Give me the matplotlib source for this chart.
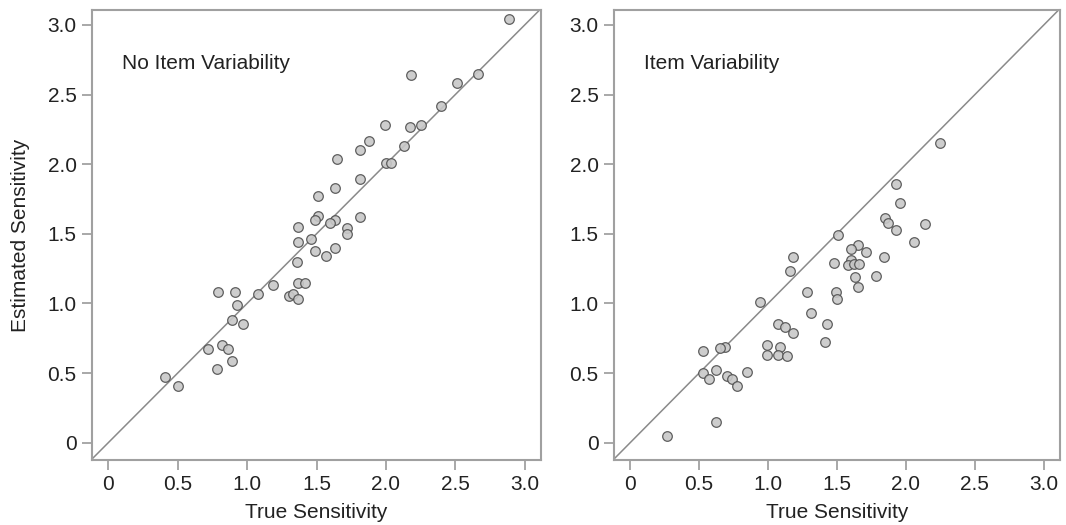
import numpy as np
import matplotlib.pyplot as plt

plt.rcParams['font.family'] = ['Liberation Sans', 'DejaVu Sans']

# No item variability (left panel)
true_left = [2.89, 2.18, 2.66, 2.51, 2.40, 2.25, 2.17, 1.99, 1.88, 1.81,
             2.13, 1.65, 2.00, 2.04, 1.63, 1.81, 1.51, 1.51, 1.49, 1.635,
             1.60, 1.81, 1.37, 1.72, 1.72, 1.46, 1.37, 1.635, 1.49, 1.57,
             1.36, 0.41, 0.50, 0.78, 0.72, 0.82, 0.86, 0.89, 0.89, 0.97,
             0.925, 0.79, 0.91, 1.08, 1.19, 1.30, 1.33, 1.365, 1.365, 1.42]
est_left = [3.04, 2.64, 2.65, 2.58, 2.42, 2.28, 2.27, 2.28, 2.17, 2.10,
            2.13, 2.04, 2.01, 2.01, 1.83, 1.89, 1.77, 1.63, 1.60, 1.60,
            1.58, 1.62, 1.55, 1.54, 1.50, 1.46, 1.44, 1.40, 1.38, 1.34,
            1.30, 0.47, 0.41, 0.53, 0.67, 0.70, 0.67, 0.59, 0.88, 0.85,
            0.99, 1.08, 1.08, 1.07, 1.13, 1.05, 1.07, 1.03, 1.15, 1.15]

# Item variability (right panel)
true_right = [2.25, 1.93, 1.96, 1.85, 1.87, 2.14, 1.93, 2.06, 1.51, 1.65,
              1.60, 1.71, 1.18, 1.84, 1.48, 1.60, 1.58, 1.62, 1.66, 1.16,
              1.63, 1.78, 1.65, 1.28, 1.49, 1.50, 0.94, 1.31, 1.07, 1.12,
              1.18, 1.43, 1.41, 0.99, 1.09, 0.69, 0.65, 0.53, 0.99, 1.07,
              1.14, 0.53, 0.57, 0.62, 0.70, 0.74, 0.775, 0.85, 0.625, 0.27]
est_right = [2.15, 1.855, 1.72, 1.61, 1.58, 1.57, 1.53, 1.44, 1.495, 1.42,
             1.39, 1.37, 1.33, 1.33, 1.29, 1.31, 1.275, 1.28, 1.28, 1.23,
             1.19, 1.20, 1.115, 1.085, 1.08, 1.03, 1.01, 0.93, 0.855, 0.83,
             0.79, 0.85, 0.72, 0.70, 0.69, 0.69, 0.68, 0.66, 0.63, 0.63,
             0.62, 0.50, 0.46, 0.52, 0.48, 0.46, 0.41, 0.51, 0.15, 0.05]

ticks = [0, 0.5, 1.0, 1.5, 2.0, 2.5, 3.0]
tick_labels = ['0', '0.5', '1.0', '1.5', '2.0', '2.5', '3.0']

fig = plt.figure(figsize=(10.66, 5.25), dpi=100)
ax1 = fig.add_axes([92 / 1066, 65 / 525, 449 / 1066, 450 / 525])
ax2 = fig.add_axes([614 / 1066, 65 / 525, 446 / 1066, 450 / 525])

panels = [(ax1, true_left, est_left, 'No Item Variability'),
          (ax2, true_right, est_right, 'Item Variability')]

for ax, xs, ys, title in panels:
    ax.plot([-0.3, 3.3], [-0.3, 3.3], color='#8a8a8a', lw=1.1, zorder=1)
    ax.scatter(xs, ys, s=48, facecolor='#c8c8c8', edgecolor='#505050',
               linewidth=0.9, alpha=0.9, zorder=2)
    ax.set_xlim(-0.117, 3.117)
    ax.set_ylim(-0.124, 3.107)
    ax.set_xticks(ticks)
    ax.set_xticklabels(tick_labels)
    ax.set_yticks(ticks)
    ax.set_yticklabels(tick_labels)
    ax.tick_params(direction='out', length=7, width=1.2, color='#999999',
                   labelsize=15, labelcolor='#222222', pad=4)
    for sp in ax.spines.values():
        sp.set_color('#a0a0a0')
        sp.set_linewidth(1.5)
    ax.set_xlabel('True Sensitivity', fontsize=15, color='#222222', labelpad=6)
    ax.text(0.067, 0.882, title, transform=ax.transAxes, fontsize=15,
            color='#222222', va='center', ha='left')

ax1.set_ylabel('Estimated Sensitivity', fontsize=15, color='#222222', labelpad=13)

fig.savefig('out.png', dpi=100)
